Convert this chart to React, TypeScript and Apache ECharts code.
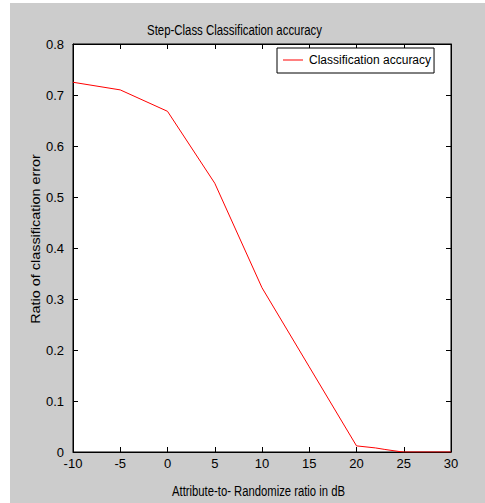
import React, { useEffect, useRef } from "react";
import * as echarts from "echarts";

const snrDb = [-10, -5, 0, 5, 10, 15, 20, 22, 23, 24.5, 25, 30];
const accuracy = [0.725, 0.71, 0.668, 0.527, 0.322, 0.167, 0.012, 0.008, 0.005, 0.001, 0, 0];
const xTicks = { min: -10, max: 30, interval: 5 };
const yTicks = { min: 0, max: 0.8, interval: 0.1 };
const seriesName = "Classification accuracy";
const titleText = "Step-Class Classification accuracy";
const xLabel = "Attribute-to- Randomize ratio in dB";
const yLabel = "Ratio of classification error";

const FONT = "'Liberation Sans', Arial, sans-serif";

export default function App() {
  const ref = useRef<HTMLDivElement>(null);
  useEffect(() => {
    if (!ref.current) return;
    const chart = echarts.init(ref.current, undefined, { renderer: "svg" });
    const axisCommon = {
      axisLine: { show: true, onZero: false, lineStyle: { color: "#000", width: 1 } },
      axisTick: { show: true, inside: true, length: 5, lineStyle: { color: "#000" } },
      splitLine: { show: false },
    };
    chart.setOption({
      animation: false,
      backgroundColor: "#ffffff",
      textStyle: { fontFamily: FONT },
      grid: { left: 73, top: 44, right: 34, bottom: 51, show: true, backgroundColor: "#fff", borderColor: "#000", borderWidth: 1 },
      graphic: [
        { type: "rect", z: -10, silent: true, shape: { x: 10, y: 3, width: 475, height: 500 }, style: { fill: "#cccccc" } },
        { type: "text", x: 234.5, y: 30, scaleX: 0.815, style: { text: titleText, fill: "#000", font: `14px ${FONT}`, align: "center", verticalAlign: "middle" } },
        { type: "text", x: 258.5, y: 491, scaleX: 0.806, style: { text: xLabel, fill: "#000", font: `14px ${FONT}`, align: "center", verticalAlign: "middle" } },
        { type: "text", x: 36, y: 239, rotation: Math.PI / 2, scaleX: 1.2, style: { text: yLabel, fill: "#000", font: `12px ${FONT}`, align: "center", verticalAlign: "middle" } },
      ],
      legend: {
        data: [seriesName],
        left: 277,
        top: 48,
        orient: "vertical",
        backgroundColor: "#fff",
        borderColor: "#000",
        borderWidth: 1,
        borderRadius: 0,
        padding: [6, 3, 7, 6],
        icon: "rect",
        itemWidth: 20,
        itemHeight: 1,
        itemGap: 0,
        textStyle: { fontFamily: FONT, fontSize: 12, color: "#000", padding: [0, 0, 0, 1] },
      },
      xAxis: [
        {
          type: "value", position: "bottom", ...axisCommon,
          min: xTicks.min, max: xTicks.max, interval: xTicks.interval,
          axisLabel: { color: "#000", fontSize: 13, fontFamily: FONT, margin: 5 },
        },
        {
          type: "value", position: "top", ...axisCommon,
          min: xTicks.min, max: xTicks.max, interval: xTicks.interval,
          axisLabel: { show: false },
        },
      ],
      yAxis: [
        {
          type: "value", position: "left", ...axisCommon,
          min: yTicks.min, max: yTicks.max, interval: yTicks.interval,
          axisLabel: { color: "#000", fontSize: 13, fontFamily: FONT, margin: 9, formatter: (v: number) => String(Math.round(v * 10) / 10) },
        },
        {
          type: "value", position: "right", ...axisCommon,
          min: yTicks.min, max: yTicks.max, interval: yTicks.interval,
          axisLabel: { show: false },
        },
      ],
      series: [
        {
          name: seriesName,
          type: "line",
          data: snrDb.map((x, i) => [x, accuracy[i]]),
          symbol: "none",
          itemStyle: { color: "#ff0000" },
          lineStyle: { color: "#ff0000", width: 1 },
        },
      ],
    });
    return () => chart.dispose();
  }, []);
  return <div ref={ref} style={{ position: "fixed", left: 0, top: 0, width: 485, height: 503 }} />;
}
